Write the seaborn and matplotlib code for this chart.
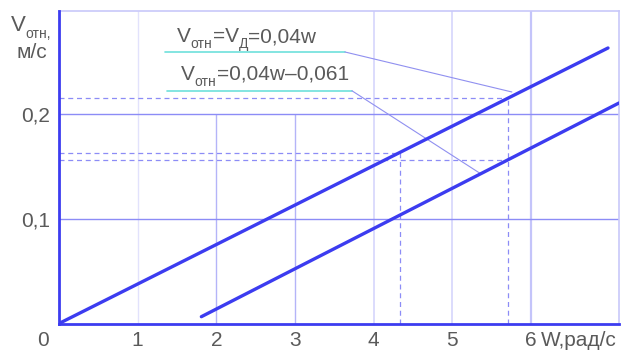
import matplotlib
matplotlib.use("Agg")
import matplotlib.pyplot as plt
import seaborn as sns
import pandas as pd

# values
x_ticks = [1, 2, 3, 4, 5, 6]
x_tick_labels = ["1", "2", "3", "4", "5", "6"]
y_ticks = [0.1, 0.2]
y_tick_labels = ["0,1", "0,2"]

line1_w = [0.0, 6.98]
line1_v = [0.0, 0.263]
line2_w = [1.81, 7.12]
line2_v = [0.0065, 0.2105]

# dashed helper lines (reading points on the two lines)
read_w = [5.71, 4.33, 5.71]
read_v = [0.2153, 0.1625, 0.156]

# leader lines for the two captions
lead1_w = [1.35, 3.635, 5.758]
lead1_v = [0.2592, 0.2592, 0.221]
lead2_w = [1.373, 3.724, 5.35]
lead2_v = [0.2222, 0.2222, 0.1435]

XMAX, YMAX = 7.12, 0.2986

BLUE = "#3c3cf0"
GRID = "#d2d2fc"
TEXT = "#5a5a5a"
FONT = ["Liberation Sans Narrow", "Liberation Sans", "DejaVu Sans"]
FS = 15

sns.set_style("white")
plt.rcParams["font.family"] = FONT

fig = plt.figure(figsize=(6.22, 3.51), dpi=100)
ax = fig.add_axes([59 / 622, (351 - 323.5) / 351, 560 / 622, 312.8 / 351])
ax.set_xlim(0, XMAX)
ax.set_ylim(0, YMAX)

# grid
for x in x_ticks:
    if x in (2, 3):
        ax.vlines(x, 0, 0.2, color="#b4b4f8", lw=1.0, zorder=1)
    elif x == 1:
        ax.vlines(x, 0, YMAX, color="#e2e2fc", lw=1.0, zorder=1)
    elif x == 6:
        ax.vlines(x, 0, YMAX, color="#c4c4fa", lw=1.6, zorder=1)
    else:
        ax.vlines(x, 0, YMAX, color=GRID, lw=1.1, zorder=1)
ax.hlines(y_ticks, 0, XMAX, color="#8c8cf6", lw=1.0, zorder=1)

# dashed reading lines
ax.hlines(read_v, 0, read_w, color="#8c8cf6", lw=0.9, ls=(0, (4, 3)), zorder=1)
ax.vlines(read_w[:2], 0, read_v[:2], color="#8c8cf6", lw=0.9, ls=(0, (4, 3)), zorder=1)

# main lines
df = pd.DataFrame({
    "w": line1_w + line2_w,
    "v": line1_v + line2_v,
    "s": ["a"] * len(line1_w) + ["b"] * len(line2_w),
})
sns.lineplot(data=df, x="w", y="v", hue="s", palette=[BLUE, BLUE], legend=False,
             lw=2.4, ax=ax, zorder=3)

# leaders
for lw_, lv_ in ((lead1_w, lead1_v), (lead2_w, lead2_v)):
    ax.plot(lw_[:2], lv_[:2], color="#6ee0dc", lw=1.2, zorder=2)
    ax.plot(lw_[1:], lv_[1:], color="#9090f0", lw=0.8, zorder=2)

ax.set_xlabel("")
ax.set_ylabel("")

# spines
for s in ("top", "right"):
    ax.spines[s].set_color("#c8c8fa")
    ax.spines[s].set_linewidth(1.2)
for s in ("left", "bottom"):
    ax.spines[s].set_color(BLUE)
    ax.spines[s].set_linewidth(2.0)
    ax.spines[s].set_zorder(4)

ax.set_xticks(x_ticks, x_tick_labels)
ax.set_yticks(y_ticks, y_tick_labels)
ax.tick_params(length=0, labelsize=FS, labelcolor=TEXT)
ax.tick_params(axis="x", pad=11.9)
ax.tick_params(axis="y", pad=6.5)
for lbl in ax.get_xticklabels():
    lbl.set_va("center")

ax.text(-0.2, -0.0158, "0", ha="center", va="center", fontsize=FS, color=TEXT)
ax.text(6.13, -0.0158, "W,рад/с", ha="left", va="center", fontsize=FS, color=TEXT)


def chain(x, y, parts, coords, size=FS, sub_size=10):
    first = ax.text(x, y, parts[0][0], transform=coords, fontsize=size,
                    color=TEXT, va="baseline", ha="left")
    prev = first
    for txt, sub in parts[1:]:
        prev = ax.annotate(txt, xy=(1, 0), xycoords=(prev, first),
                           xytext=(0, -3.5 if sub else 0), textcoords="offset points",
                           fontsize=sub_size if sub else size, color=TEXT,
                           va="bottom", ha="left", annotation_clip=False)
    return first


chain(1.50, 0.2687, [("V", 0), ("отн", 1), ("=V", 0), ("Д", 1), ("=0,04w", 0)], ax.transData)
chain(1.55, 0.2325, [("V", 0), ("отн", 1), ("=0,04w\u20130,061", 0)], ax.transData)

# y-axis caption
chain(11 / 622, (351 - 31) / 351, [("V", 0), ("отн,", 1)], fig.transFigure, size=16)
fig.text(16 / 622, (351 - 58) / 351, "м/с", fontsize=FS, color=TEXT, va="baseline")

fig.savefig("out.png", dpi=100)
